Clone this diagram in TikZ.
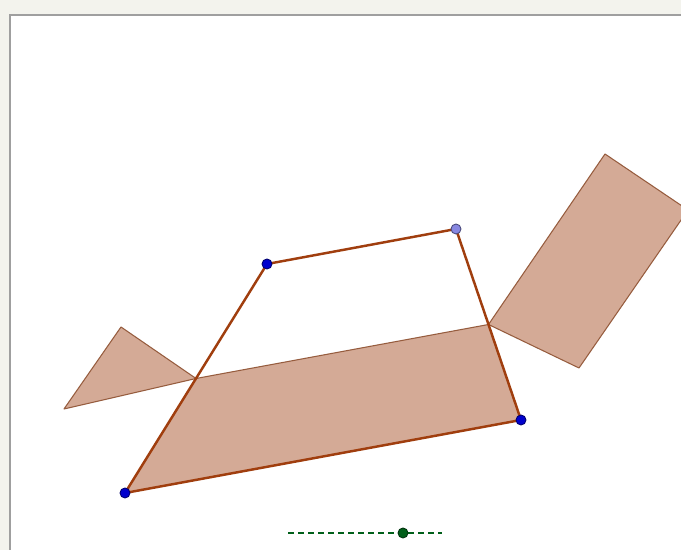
\documentclass[tikz,border=0pt]{standalone}
\usetikzlibrary{calc}
\definecolor{rust}{RGB}{160,62,14}
\definecolor{clay}{RGB}{212,170,150}
\definecolor{clayedge}{RGB}{150,92,62}
\definecolor{dot}{RGB}{0,0,205}
\definecolor{lilac}{RGB}{135,135,225}
\definecolor{pine}{RGB}{0,95,25}
\definecolor{panel}{RGB}{243,243,237}
\tikzset{
  piece/.style={fill=clay,draw=clayedge,line width=0.6pt,line join=round},
  side/.style={draw=rust,line width=1.4pt,line cap=round,line join=round},
  pt/.style={circle,fill=#1,draw=#1!55!black,line width=0.5pt,inner sep=0pt,minimum size=2mm},
  pt/.default=dot,
  slider/.style={draw=pine,dash pattern=on 3.4pt off 2.3pt,line width=0.6pt},
}
\begin{document}
\begin{tikzpicture}[x=0.02cm,y=-0.02cm]
  \useasboundingbox (0,0) rectangle (681,550);
  \fill[panel] (0,0) rectangle (681,550);
  \fill[white] (10,15) rectangle (681,550);
  \draw[gray!75,line width=0.9pt] (10,550) -- (10,15) -- (681,15);
  \clip (0,0) rectangle (681,550);
  % quadrilateral and its midpoints
  \coordinate (A) at (125,493);
  \coordinate (B) at (267,264);
  \coordinate (C) at (456,229);
  \coordinate (D) at (521,420);
  \coordinate (M) at ($(A)!0.5!(B)$);
  \coordinate (N) at ($(C)!0.5!(D)$);
  % turned pieces
  \coordinate (T1) at (121,327);
  \coordinate (T2) at (64,409);
  \coordinate (R1) at (579,368);
  \coordinate (R2) at (688,210);
  \coordinate (R3) at (605,154);
  \draw[piece] (M) -- (T1) -- (T2) -- cycle;
  \draw[piece] (N) -- (R1) -- (R2) -- (R3) -- cycle;
  \draw[piece] (A) -- (M) -- (N) -- (D) -- cycle;
  \draw[side] (A) -- (B) -- (C) -- (D) -- cycle;
  \foreach \p in {A,B,D} \node[pt] (dot\p) at (\p) {};
  \node[pt=lilac] (dotC) at (C) {};
  % slider
  \coordinate (s0) at (288,533);
  \coordinate (s1) at (442,533);
  \draw[slider] (s0) -- (s1);
  \node[pt=pine] (knob) at (403,533) {};
\end{tikzpicture}
\end{document}
